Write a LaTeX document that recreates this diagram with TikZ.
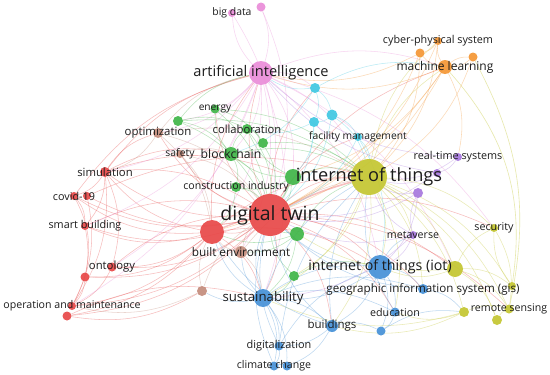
\documentclass[tikz,border=0pt]{standalone}
\usepackage{fontspec}
\setmainfont{Open Sans}
\pgfdeclarelayer{bg}
\pgfsetlayers{bg,main}
\definecolor{cr}{RGB}{232,72,72}
\definecolor{cg}{RGB}{64,182,72}
\definecolor{cb}{RGB}{70,145,215}
\definecolor{cy}{RGB}{196,198,48}
\definecolor{cp}{RGB}{168,120,222}
\definecolor{cc}{RGB}{64,200,226}
\definecolor{co}{RGB}{245,150,52}
\definecolor{cw}{RGB}{196,140,124}
\definecolor{ck}{RGB}{234,140,216}
\definecolor{txt}{RGB}{28,28,28}
\newcommand{\fs}[1]{\fontsize{#1}{#1}\selectfont}
\tikzset{
  dot/.style 2 args={circle,inner sep=0pt,minimum size=#1pt,fill=#2,fill opacity=0.92},
  lbl/.style={inner sep=0pt,text=txt,font=\fs{10.6}},
  edge/.style={bend left=19,line width=0.55pt,draw opacity=0.36},
}
\begin{document}
\begin{tikzpicture}[x=1pt,y=-1pt]
\useasboundingbox (0,0) rectangle (550,375);
% red
\node[dot={42}{cr}] (dt) at (270,215) {};
\node[dot={24}{cr}] (rh) at (212,232) {};
\node[dot={10}{cr}] (sim) at (105,172) {};
\node[dot={8}{cr}] (cov) at (74,196) {};
\node[dot={8}{cr}] (cov2) at (87,196) {};
\node[dot={8}{cr}] (smb) at (85,226) {};
\node[dot={9}{cr}] (ont) at (112,267) {};
\node[dot={9}{cr}] (r5) at (85,277) {};
\node[dot={8}{cr}] (om) at (72,306) {};
\node[dot={9}{cr}] (r7) at (67,316) {};
% brown
\node[dot={12}{cw}] (be) at (241,252) {};
\node[dot={10}{cw}] (opt) at (158,133) {};
\node[dot={8}{cw}] (saf) at (180,154) {};
\node[dot={10}{cw}] (br4) at (202,291) {};
% pink
\node[dot={24}{ck}] (ai) at (261,73) {};
\node[dot={8}{ck}] (bd) at (232,13) {};
\node[dot={9}{ck}] (p2) at (261,7) {};
% olive
\node[dot={36}{cy}] (ioth) at (369,177) {};
\node[dot={8}{cy}] (sec) at (494,228) {};
\node[dot={16}{cy}] (y1) at (455,269) {};
\node[dot={8}{cy}] (y2) at (512,286) {};
\node[dot={9}{cy}] (rs) at (509,309) {};
\node[dot={10}{cy}] (y3) at (464,312) {};
\node[dot={10}{cy}] (y4) at (497,320) {};
% blue
\node[dot={24}{cb}] (iot) at (380,267) {};
\node[dot={10}{cb}] (gis) at (423,289) {};
\node[dot={9}{cb}] (edu) at (395,312) {};
\node[dot={9}{cb}] (b2) at (381,331) {};
\node[dot={12}{cb}] (bld) at (332,326) {};
\node[dot={18}{cb}] (sus) at (263,298) {};
\node[dot={9}{cb}] (dig) at (279,346) {};
\node[dot={9}{cb}] (clc) at (274,366) {};
\node[dot={9}{cb}] (clc2) at (287,366) {};
% green
\node[dot={16}{cg}] (g1) at (293,177) {};
\node[dot={14}{cg}] (g2) at (297,234) {};
\node[dot={10}{cg}] (g3) at (294,276) {};
\node[dot={10}{cg}] (ci) at (236,187) {};
\node[dot={14}{cg}] (bc) at (231,154) {};
\node[dot={10}{cg}] (col) at (247,129) {};
\node[dot={10}{cg}] (g4) at (263,143) {};
\node[dot={9}{cg}] (en) at (215,109) {};
\node[dot={10}{cg}] (g5) at (178,121) {};
% cyan
\node[dot={10}{cc}] (c1) at (315,88) {};
\node[dot={11}{cc}] (c2) at (332,115) {};
\node[dot={10}{cc}] (c3) at (314,122) {};
\node[dot={8}{cc}] (fm) at (358,137) {};
% orange
\node[dot={8}{co}] (cps) at (438,41) {};
\node[dot={9}{co}] (o2) at (420,53) {};
\node[dot={9}{co}] (o3) at (473,57) {};
\node[dot={14}{co}] (ml) at (445,67) {};
% purple
\node[dot={8}{cp}] (rt) at (458,157) {};
\node[dot={8}{cp}] (pu2) at (437,173) {};
\node[dot={10}{cp}] (pu3) at (418,193) {};
\node[dot={8}{cp}] (mv) at (413,235) {};

\begin{pgfonlayer}{bg}
\fill[white] (0,0) rectangle (550,375);
% red edges
\foreach \a/\b in {dt/sim,dt/cov,dt/cov2,dt/smb,dt/ont,dt/r5,dt/om,dt/r7,rh/sim,rh/cov,rh/smb,rh/ont,rh/r5,rh/om,rh/r7,sim/cov,sim/smb,sim/ont,cov/smb,cov2/om,smb/om,ont/om,r5/om,sim/om,cov/r5,dt/rh,dt/ai,dt/ioth,dt/iot,dt/ml,dt/sec,dt/gis,dt/rs,dt/opt,dt/saf,dt/en,dt/sus,dt/bld,dt/y1,rh/ioth,rh/ai,sim/ai,sim/bc,sim/opt,sim/dt,ont/dt,cov/ai,dt/c1,dt/fm,dt/edu,rh/iot,smb/dt,sim/g1,cov2/ioth,rh/sus,r7/sus}
  \draw[edge,cr] (\a) to (\b);
\draw[edge,cr] (br4) to (r7);
\draw[cr,line width=1.6pt,draw opacity=0.35] (dt) to[bend left=5] (ioth);
\draw[cr,line width=1.4pt,draw opacity=0.35] (rh) to[bend left=5] (dt);
% brown edges
\foreach \a/\b in {be/dt,be/rh,opt/dt,opt/ai,saf/dt,saf/bc,br4/dt,br4/om,be/sus,opt/sim,opt/ioth,br4/rh,be/ioth,saf/rh,opt/rh}
  \draw[edge,cw] (\a) to (\b);
% pink edges
\foreach \a/\b in {ai/bd,p2/ai,ai/ioth,ai/sim,ai/ml,ai/iot,ai/sus,ai/bc,ai/g1,ai/c1,ai/be,ai/om,ai/smb,bd/dt,ai/opt,ai/rh,ai/sec,ai/y1,ai/g5,ai/ont,p2/dt}
  \draw[edge,ck] (\a) to (\b);
% green edges
\foreach \a/\b in {g1/bc,g1/ci,g1/col,g1/dt,bc/ci,bc/col,bc/en,g5/col,g5/ai,g5/ioth,en/g4,col/g4,ci/dt,g2/dt,g2/sus,g3/sus,g3/iot,bc/dt,g4/ioth,g5/bc,en/ioth,col/dt,g4/dt,g2/ioth,g1/ioth,g5/dt,ci/rh,en/dt,g2/rh,bc/ioth,g3/dt,g2/be}
  \draw[edge,cg] (\a) to (\b);
\draw[cg,line width=1.4pt,draw opacity=0.35] (g1) to[bend left=5] (dt);
% olive edges
\foreach \a/\b in {ioth/sec,ioth/y1,ioth/y2,ioth/rs,ioth/y3,ioth/ml,ioth/cps,y1/sec,y1/rs,y1/y2,y3/rs,y4/rs,y2/sec,ioth/bld,ioth/sus,ioth/edu,y3/edu,y3/bld,ioth/y4,y1/iot,ioth/iot,y1/y4,sec/rs,ioth/g3,y3/sus,ioth/mv,ioth/gis,y1/dt}
  \draw[edge,cy] (\a) to (\b);
\draw[cy,line width=0.6pt,draw opacity=0.4] (ml) to[bend left=25] (y2);
\draw[cy,line width=0.6pt,draw opacity=0.4] (o3) to[bend left=20] (rs);
% orange edges
\foreach \a/\b in {ml/cps,ml/o2,ml/o3,cps/o2,ml/dt,ml/ai,o2/dt,ml/g1,cps/ioth,ml/rt,o3/ml,o2/ioth,cps/dt,o3/ioth,ml/rh,o2/ai}
  \draw[edge,co] (\a) to (\b);
% blue edges
\foreach \a/\b in {iot/gis,iot/edu,iot/b2,iot/bld,iot/sus,iot/dt,sus/dig,sus/clc,sus/clc2,sus/bld,bld/dig,bld/clc2,bld/b2,dig/clc,clc/clc2,sus/dt,sus/be,sus/ioth,gis/y3,edu/b2,b2/y3,sus/gis,dig/iot,iot/mv,sus/edu,bld/dt,dig/dt,clc/dt,bld/ioth,gis/dt,sus/rh,dig/ioth,edu/ioth,sus/br4,sus/iot,bld/rh}
  \draw[edge,cb] (\a) to (\b);
% cyan edges
\foreach \a/\b in {c1/c3,c1/c2,c2/c3,c2/fm,fm/ioth,c1/ai,c2/dt,c3/dt,c3/g1,fm/iot,c1/ml,c2/ioth,fm/dt,c1/bc,c3/col}
  \draw[edge,cc] (\a) to (\b);
% purple edges
\foreach \a/\b in {rt/pu2,pu2/ioth,pu3/ioth,mv/ioth,mv/iot,mv/dt,rt/ai,pu3/dt,pu2/ai,mv/sus,rt/ioth,pu3/iot,pu2/dt,mv/pu3}
  \draw[edge,cp] (\a) to (\b);
\end{pgfonlayer}

% labels
\node[lbl,font=\fs{10.4}] (bdL) at (bd) {big data};
\node[lbl,font=\fs{14.6}] (aiL) at (ai) {artificial intelligence};
\node[lbl,font=\fs{10.8}] (cpsL) at (cps) {cyber-physical system};
\node[lbl,font=\fs{12}] (mlL) at (ml) {machine learning};
\node[lbl,font=\fs{10.2}] (enL) at (en) {energy};
\node[lbl,font=\fs{11.4}] (optL) at (opt) {optimization};
\node[lbl,font=\fs{11.2}] (colL) at (col) {collaboration};
\node[lbl,font=\fs{10.3}] (fmL) at (fm) {facility management};
\node[lbl,font=\fs{10.4}] (safL) at (saf) {safety};
\node[lbl,font=\fs{12.2}] (bcL) at (bc) {blockchain};
\node[lbl,font=\fs{11.3}] (simL) at (sim) {simulation};
\node[lbl,font=\fs{10.8}] (rtL) at (rt) {real-time systems};
\node[lbl,font=\fs{18.2}] (iothL) at (ioth) {internet of things};
\node[lbl,font=\fs{10.6}] (ciL) at (ci) {construction industry};
\node[lbl,font=\fs{10.8}] (covL) at (cov) {covid-19};
\node[lbl,font=\fs{19.5}] (dtL) at (dt) {digital twin};
\node[lbl,font=\fs{10.8}] (smbL) at (smb) {smart building};
\node[lbl,font=\fs{10.7}] (secL) at (sec) {security};
\node[lbl,font=\fs{10.6}] (mvL) at (mv) {metaverse};
\node[lbl,font=\fs{11.8}] (beL) at (be) {built environment};
\node[lbl,font=\fs{11.3}] (ontL) at (ont) {ontology};
\node[lbl,font=\fs{14.2}] (iotL) at (iot) {internet of things (iot)};
\node[lbl,font=\fs{11.6}] (gisL) at (gis) {geographic information system (gis)};
\node[lbl,font=\fs{10.6}] (omL) at (om) {operation and maintenance};
\node[lbl,font=\fs{13.2}] (susL) at (sus) {sustainability};
\node[lbl,font=\fs{10.6}] (rsL) at (rs) {remote sensing};
\node[lbl,font=\fs{10.7}] (eduL) at (edu) {education};
\node[lbl,font=\fs{11.5}] (bldL) at (bld) {buildings};
\node[lbl,font=\fs{10.9}] (digL) at (dig) {digitalization};
\node[lbl,font=\fs{10.6}] (clcL) at (clc) {climate change};
\end{tikzpicture}
\end{document}
